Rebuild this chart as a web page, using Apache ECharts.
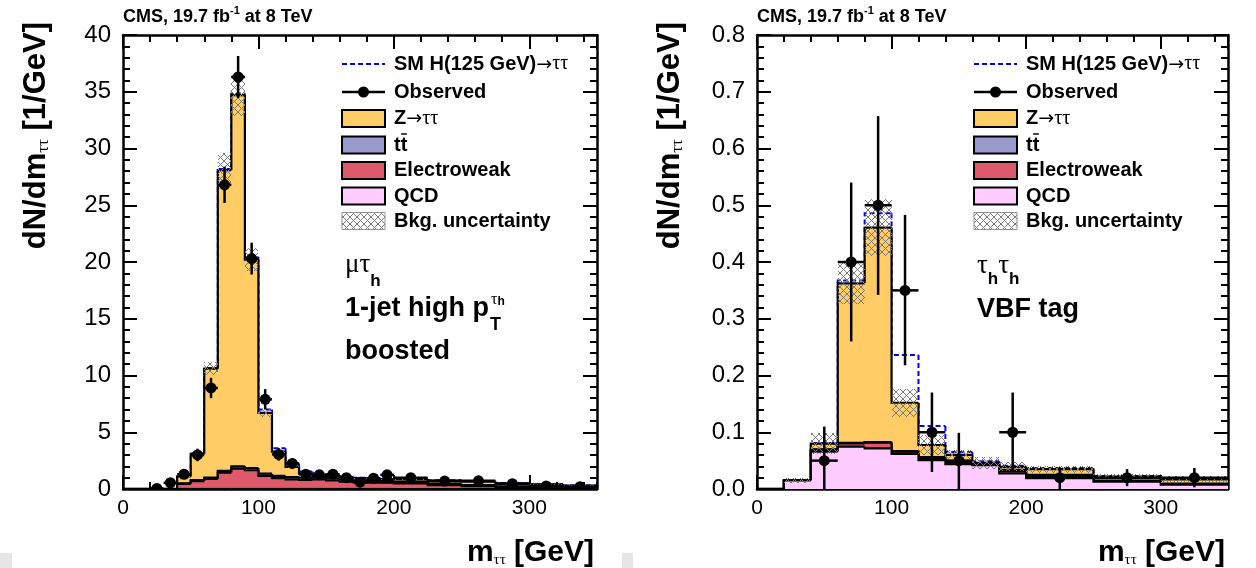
<!DOCTYPE html>
<html>
<head>
<meta charset="utf-8">
<script src="https://cdn.jsdelivr.net/npm/echarts@6/dist/echarts.min.js"></script>
<style>
  html, body { margin: 0; padding: 0; background: #fff; }
  #main { width: 1256px; height: 568px; }
</style>
</head>
<body>
<div id="main"></div>
<script>
// ---------- mu tau_h, 1-jet high pT boosted (left panel) ----------
// bin edges in GeV
const boostEdges = [0, 10, 20, 30, 40, 50, 60, 70, 80, 90, 100, 110, 120, 130, 140, 150, 160, 170, 180, 190, 200, 225, 250, 275, 300, 325, 350];
// expected events per GeV, one value per bin
const boostQCD = [0, 0, 0, 0, 0, 0, 0, 0, 0, 0, 0, 0, 0, 0, 0, 0, 0, 0, 0, 0, 0, 0, 0, 0, 0, 0];
const boostEWK = [0, 0, 0, 0, 0.45, 0.7, 0.9, 1.45, 1.8, 1.65, 1.15, 0.95, 0.85, 0.8, 0.85, 0.75, 0.65, 0.6, 0.55, 0.55, 0.5, 0.35, 0.25, 0.15, 0.1, 0.06];
const boostTT = [0, 0, 0, 0, 0.05, 0.08, 0.1, 0.15, 0.2, 0.2, 0.2, 0.2, 0.2, 0.2, 0.2, 0.18, 0.18, 0.17, 0.16, 0.15, 0.14, 0.12, 0.1, 0.08, 0.06, 0.05];
const boostZTT = [0, 0, 0, 0, 0.6, 2.32, 9.6, 26.5, 32.7, 18.35, 5.35, 2.15, 0.9, 0.35, 0.2, 0.22, 0.22, 0.18, 0.19, 0.15, 0.21, 0.28, 0.3, 0.27, 0.24, 0.19];
const boostBkgErr = [0, 0, 0, 0, 0.06, 0.15, 0.55, 1.5, 1.8, 1.0, 0.35, 0.17, 0.1, 0.07, 0.06, 0.06, 0.05, 0.05, 0.05, 0.05, 0.05, 0.04, 0.04, 0.03, 0.03, 0.02];
const boostHiggs = [0, 0, 0, 0, 0, 0.02, 0.05, 0.1, 0.15, 0.25, 0.3, 0.3, 0.3, 0.2, 0.12, 0.08, 0.06, 0.05, 0.04, 0.03, 0.03, 0.02, 0.02, 0.01, 0.01, 0.01];
const boostObs = [null, null, 0.05, 0.55, 1.3, 3.0, 8.9, 26.8, 36.3, 20.3, 7.9, 3.05, 2.25, 1.3, 1.25, 1.3, 1.0, 0.6, 0.95, 1.25, 1.0, 0.7, 0.72, 0.47, 0.27, 0.2];
const boostObsErrUp = [0, 0, 0.07, 0.23, 0.36, 0.55, 0.9, 1.6, 1.85, 1.4, 0.9, 0.55, 0.47, 0.36, 0.35, 0.36, 0.32, 0.25, 0.31, 0.35, 0.2, 0.17, 0.17, 0.14, 0.1, 0.09];
const boostObsErrDn = [0, 0, 0.05, 0.23, 0.36, 0.55, 0.9, 1.6, 1.85, 1.4, 0.9, 0.55, 0.47, 0.36, 0.35, 0.36, 0.32, 0.25, 0.31, 0.35, 0.2, 0.17, 0.17, 0.14, 0.1, 0.09];
const boostYTicks = { max: 40, interval: 5, digits: 0 };

// ---------- tau_h tau_h, VBF tag (right panel) ----------
const vbfEdges = [0, 20, 40, 60, 80, 100, 120, 140, 160, 180, 200, 250, 300, 350];
const vbfQCD = [0, 0.015, 0.066, 0.0745, 0.0717, 0.062, 0.051, 0.044, 0.042, 0.0277, 0.019, 0.013, 0.0075];
const vbfEWK = [0, 0, 0.003, 0.006, 0.01, 0.004, 0.003, 0.002, 0.002, 0.004, 0.002, 0.001, 0.001];
const vbfTT = [0, 0, 0.001, 0.001, 0.001, 0.001, 0.002, 0.002, 0.001, 0.002, 0.004, 0.001, 0.001];
const vbfZTT = [0, 0, 0.010, 0.281, 0.378, 0.085, 0.0215, 0.012, 0.001, 0.0053, 0.010, 0.007, 0.0075];
const vbfBkgErr = [0, 0.004, 0.019, 0.037, 0.05, 0.025, 0.018, 0.008, 0.01, 0.008, 0.006, 0.005, 0.006];
const vbfHiggs = [0, 0, 0.001, 0.005, 0.025, 0.084, 0.0335, 0.005, 0.003, 0.002, 0.002, 0.001, 0.001];
const vbfObs = [null, null, 0.05, 0.40, 0.50, 0.35, 0.10, 0.05, null, 0.10, 0.02, 0.02, 0.02];
const vbfObsErrUp = [0, 0, 0.06, 0.14, 0.157, 0.133, 0.07, 0.049, 0, 0.07, 0.017, 0.015, 0.017];
const vbfObsErrDn = [0, 0, 0.05, 0.14, 0.158, 0.132, 0.07, 0.05, 0, 0.07, 0.02, 0.015, 0.017];
const vbfYTicks = { max: 0.8, interval: 0.1, digits: 1 };

const xTickLabels = { max: 350, major: 100, minor: 20 };

// legend entries and category captions
const legendLabels = ['SM H(125 GeV)', 'Observed', 'Z', 'tt', 'Electroweak', 'QCD', 'Bkg. uncertainty'];
const headerText = ['CMS, 19.7 fb', '-1', ' at 8 TeV'];

// ---------- styling ----------
const SANS = '"Liberation Sans", Arial, Helvetica, sans-serif';
const SERIF = '"Liberation Serif", "DejaVu Serif", serif';
const ARROWF = '"DejaVu Sans", sans-serif';
const COL = { ztt: '#FFCC66', tt: '#9999CC', ewk: '#DE5A6A', qcd: '#FFCCFF', higgs: '#0000EE' };
const OUTLINE_W = 2.2;

function makeHatch() {
  const c = document.createElement('canvas');
  c.width = 7; c.height = 7;
  const g = c.getContext('2d');
  g.strokeStyle = '#7a7a7a';
  g.lineWidth = 1;
  g.beginPath();
  g.moveTo(-1, -1); g.lineTo(8, 8);
  g.moveTo(8, -1); g.lineTo(-1, 8);
  g.stroke();
  return c;
}
const hatch = makeHatch();
const hatchFill = () => ({ type: 'pattern', image: hatch, repeat: 'repeat' });

// ---------- render helpers ----------
function snapRect(a, b) {
  const x = Math.round(a[0]), y = Math.round(a[1]);
  return { x: x, y: y, width: Math.round(b[0]) - x, height: Math.round(b[1]) - y };
}
function fillItem(color) {
  return function (params, api) {
    const lo = api.value(0), hi = api.value(1), top = api.value(2);
    if (!(top > 0)) return null;
    return { type: 'rect', shape: snapRect(api.coord([lo, top]), api.coord([hi, 0])), style: { fill: color } };
  };
}
function outlineItem(color, width, dash) {
  return function (params, api) {
    const lo = api.value(0), hi = api.value(1), top = api.value(2), prev = api.value(3);
    const pts = [api.coord([lo, prev]), api.coord([lo, top]), api.coord([hi, top])];
    return { type: 'polyline', shape: { points: pts }, style: { stroke: color, lineWidth: width, fill: 'none', lineDash: dash || null } };
  };
}
function bandItem(params, api) {
  const lo = api.value(0), hi = api.value(1), dn = api.value(2), up = api.value(3);
  if (!(up > dn)) return null;
  return { type: 'rect', shape: snapRect(api.coord([lo, up]), api.coord([hi, dn])), style: { fill: hatchFill() } };
}
function obsItem(params, api) {
  const x = api.value(0), y = api.value(1), lo = api.value(2), hi = api.value(3);
  const dn = api.value(4), up = api.value(5);
  const c = api.coord([x, y]);
  const a = api.coord([lo, y]), b = api.coord([hi, y]);
  const t = api.coord([x, y + up]), d = api.coord([x, Math.max(0, y - dn)]);
  return {
    type: 'group', children: [
      { type: 'line', shape: { x1: a[0], y1: c[1], x2: b[0], y2: c[1] }, style: { stroke: '#000', lineWidth: 2.5 } },
      { type: 'line', shape: { x1: c[0], y1: t[1], x2: c[0], y2: d[1] }, style: { stroke: '#000', lineWidth: 2.5 } },
      { type: 'circle', shape: { cx: c[0], cy: c[1], r: 5.5 }, style: { fill: '#000' } }
    ]
  };
}

function panelSeries(p, xi, yi) {
  const n = p.edges.length - 1;
  const layers = [p.qcd, p.ewk, p.tt, p.ztt];          // bottom to top
  const colors = [COL.qcd, COL.ewk, COL.tt, COL.ztt];
  const cum = [];
  let acc = new Array(n).fill(0);
  layers.forEach(l => { acc = acc.map((v, i) => v + l[i]); cum.push(acc.slice()); });
  const total = cum[cum.length - 1];
  const stepData = arr => arr.map((v, i) => [p.edges[i], p.edges[i + 1], v, i > 0 ? arr[i - 1] : 0]);
  const base = { type: 'custom', xAxisIndex: xi, yAxisIndex: yi, clip: true, silent: true };
  const series = [];
  // signal expectation drawn on top of the total background
  const withHiggs = total.map((v, i) => v + p.higgs[i]);
  series.push(Object.assign({}, base, { renderItem: outlineItem(COL.higgs, 2, [5, 3]), data: stepData(withHiggs) }));
  // stacked backgrounds, largest cumulative first
  for (let k = layers.length - 1; k >= 0; k--) {
    series.push(Object.assign({}, base, { renderItem: fillItem(colors[k]), data: stepData(cum[k]) }));
    series.push(Object.assign({}, base, { renderItem: outlineItem('#000', OUTLINE_W), data: stepData(cum[k]) }));
  }
  // background uncertainty band
  series.push(Object.assign({}, base, {
    renderItem: bandItem,
    data: total.map((v, i) => [p.edges[i], p.edges[i + 1], Math.max(0, v - p.err[i]), v + p.err[i]])
  }));
  // observed data
  const obs = [];
  p.obs.forEach((v, i) => {
    if (v === null) return;
    obs.push([(p.edges[i] + p.edges[i + 1]) / 2, v, p.edges[i], p.edges[i + 1], p.obsDn[i], p.obsUp[i]]);
  });
  series.push(Object.assign({}, base, { renderItem: obsItem, data: obs }));
  return series;
}

// ---------- axes ----------
const tickLine = { color: '#000', width: 2 };
function xAxesFor(gi) {
  const common = { gridIndex: gi, type: 'value', min: 0, max: xTickLabels.max, splitLine: { show: false } };
  return [
    Object.assign({}, common, {
      position: 'bottom', interval: xTickLabels.major,
      axisLine: { show: true, onZero: false, lineStyle: { color: '#000', width: 2.5 } },
      axisTick: { show: true, inside: true, length: 14, lineStyle: tickLine },
      axisLabel: { show: true, color: '#000', fontSize: 21, fontFamily: SANS, margin: 9, showMaxLabel: false }
    }),
    Object.assign({}, common, {
      position: 'top', interval: xTickLabels.major,
      axisLine: { show: true, onZero: false, lineStyle: { color: '#000', width: 2.5 } },
      axisTick: { show: true, inside: true, length: 14, lineStyle: tickLine },
      axisLabel: { show: false }
    }),
    Object.assign({}, common, {
      position: 'bottom', interval: xTickLabels.minor,
      axisLine: { show: false, onZero: false },
      axisTick: { show: true, inside: true, length: 7, lineStyle: tickLine },
      axisLabel: { show: false }
    }),
    Object.assign({}, common, {
      position: 'top', interval: xTickLabels.minor,
      axisLine: { show: false, onZero: false },
      axisTick: { show: true, inside: true, length: 7, lineStyle: tickLine },
      axisLabel: { show: false }
    })
  ];
}
function yAxesFor(gi, t) {
  const common = {
    gridIndex: gi, type: 'value', min: 0, max: t.max, interval: t.interval, splitLine: { show: false },
    axisLine: { show: true, onZero: false, lineStyle: { color: '#000', width: 2.5 } },
    axisTick: { show: true, inside: true, length: 14, lineStyle: tickLine },
    minorTick: { show: true, splitNumber: 5, length: 7, lineStyle: tickLine }
  };
  return [
    Object.assign({}, common, {
      position: 'left',
      axisLabel: { show: true, color: '#000', fontSize: 24, fontFamily: SANS, margin: 12, formatter: v => v.toFixed(t.digits) }
    }),
    Object.assign({}, common, { position: 'right', axisLabel: { show: false } })
  ];
}

// ---------- text helpers ----------
const mctx = document.createElement('canvas').getContext('2d');
function fontOf(p) { return (p.w || 'bold') + ' ' + p.s + 'px ' + (p.f || SANS); }
function textRun(parts, opt) {
  let cx = 0, lastStart = 0;
  const kids = [];
  parts.forEach(p => {
    const font = fontOf(p);
    mctx.font = font;
    const w = mctx.measureText(p.t).width;
    if (p.rewind) cx = lastStart;
    cx += p.dx || 0;
    lastStart = cx;
    kids.push({ type: 'text', x: cx, y: p.dy || 0, style: { text: p.t, font: font, fill: p.c || '#000', align: 'left', verticalAlign: 'middle' } });
    cx += w;
  });
  if (opt.align === 'right') kids.forEach(k => { k.x -= cx; });
  return { type: 'group', x: opt.x, y: opt.y, rotation: opt.rotation || 0, silent: true, children: kids };
}

function legendGroup(x0, rows, textX) {
  const w = 43, h = 17;
  const els = [];
  // SM Higgs
  els.push({ type: 'line', shape: { x1: x0, y1: rows[0], x2: x0 + w, y2: rows[0] }, style: { stroke: COL.higgs, lineWidth: 2, lineDash: [5, 3] } });
  // observed
  els.push({ type: 'line', shape: { x1: x0, y1: rows[1], x2: x0 + w, y2: rows[1] }, style: { stroke: '#000', lineWidth: 2.5 } });
  els.push({ type: 'circle', shape: { cx: x0 + w / 2, cy: rows[1], r: 5.5 }, style: { fill: '#000' } });
  // filled backgrounds
  [COL.ztt, COL.tt, COL.ewk, COL.qcd].forEach((c, k) => {
    els.push({ type: 'rect', shape: { x: x0, y: rows[2 + k] - h / 2, width: w, height: h }, style: { fill: c, stroke: '#000', lineWidth: 2 } });
  });
  // uncertainty
  els.push({ type: 'rect', shape: { x: x0, y: rows[6] - h / 2, width: w, height: h }, style: { fill: hatchFill(), stroke: '#909090', lineWidth: 1 } });

  const arrow = [{ t: '\u2192', s: 19, w: 'normal', f: ARROWF, dy: 1 }, { t: '\u03c4\u03c4', s: 20, w: 'normal', f: SERIF }];
  els.push(textRun([{ t: legendLabels[0], s: 20 }].concat(arrow), { x: textX, y: rows[0] }));
  els.push(textRun([{ t: legendLabels[1], s: 20 }], { x: textX, y: rows[1] }));
  els.push(textRun([{ t: legendLabels[2], s: 20 }].concat(arrow), { x: textX, y: rows[2] }));
  els.push(textRun([{ t: legendLabels[3], s: 20 }], { x: textX, y: rows[3] }));
  // bar over the second t
  mctx.font = fontOf({ s: 20 });
  const tw = mctx.measureText('t').width;
  els.push({ type: 'line', shape: { x1: textX + tw + 0.5, y1: rows[3] - 11, x2: textX + 2 * tw - 0.5, y2: rows[3] - 11 }, style: { stroke: '#000', lineWidth: 1.5 } });
  els.push(textRun([{ t: legendLabels[4], s: 20 }], { x: textX, y: rows[4] }));
  els.push(textRun([{ t: legendLabels[5], s: 20 }], { x: textX, y: rows[5] }));
  els.push(textRun([{ t: legendLabels[6], s: 20 }], { x: textX, y: rows[6] }));
  return { type: 'group', silent: true, children: els };
}

function panelText(x0, xEnd, titleX) {
  return [
    textRun([{ t: headerText[0], s: 18 }, { t: headerText[1], s: 11, dy: -6 }, { t: headerText[2], s: 18 }], { x: x0, y: 17 }),
    textRun([{ t: 'm', s: 30 }, { t: '\u03c4\u03c4', s: 15, w: 'normal', f: SERIF, dy: 7 }, { t: ' [GeV]', s: 30 }],
      { x: xEnd - 3, y: 553, align: 'right' }),
    textRun([{ t: 'dN/dm', s: 31 }, { t: '\u03c4\u03c4', s: 17, w: 'normal', f: SERIF, dy: 8 }, { t: ' [1/GeV]', s: 31 }],
      { x: titleX, y: 22, align: 'right', rotation: Math.PI / 2 })
  ];
}

const rows = [64, 92, 118.5, 145, 170.5, 196, 221];

const graphics = [].concat(
  panelText(123, 597, 36),
  panelText(757, 1228, 670),
  [legendGroup(342, rows, 394), legendGroup(974, rows, 1026)],
  [
    textRun([{ t: '\u03bc\u03c4', s: 27, w: 'normal', f: SERIF }, { t: 'h', s: 17, dy: 16 }], { x: 345, y: 265 }),
    textRun([{ t: '1-jet high p', s: 27 }, { t: 'T', s: 18, dy: 16, dx: 1 },
      { t: '\u03c4', s: 16, w: 'normal', f: SERIF, dy: -9, rewind: true, dx: 1 }, { t: 'h', s: 12, dy: -7 }], { x: 345, y: 309 }),
    textRun([{ t: 'boosted', s: 27 }], { x: 345, y: 352 }),
    textRun([{ t: '\u03c4', s: 27, w: 'normal', f: SERIF }, { t: 'h', s: 17, dy: 13 },
      { t: '\u03c4', s: 27, w: 'normal', f: SERIF }, { t: 'h', s: 17, dy: 13 }], { x: 977, y: 266 }),
    textRun([{ t: 'VBF tag', s: 27 }], { x: 977, y: 310 }),
    { type: 'rect', silent: true, shape: { x: 0, y: 553, width: 12, height: 15 }, style: { fill: '#e6e6e6' } },
    { type: 'rect', silent: true, shape: { x: 622, y: 553, width: 11, height: 15 }, style: { fill: '#e6e6e6' } }
  ]
);

const boostPanel = { edges: boostEdges, qcd: boostQCD, ewk: boostEWK, tt: boostTT, ztt: boostZTT, err: boostBkgErr,
  higgs: boostHiggs, obs: boostObs, obsUp: boostObsErrUp, obsDn: boostObsErrDn };
const vbfPanel = { edges: vbfEdges, qcd: vbfQCD, ewk: vbfEWK, tt: vbfTT, ztt: vbfZTT, err: vbfBkgErr,
  higgs: vbfHiggs, obs: vbfObs, obsUp: vbfObsErrUp, obsDn: vbfObsErrDn };

const chart = echarts.init(document.getElementById('main'), null, { renderer: 'canvas' });
chart.setOption({
  animation: false,
  backgroundColor: '#fff',
  grid: [
    { left: 123, top: 35, width: 474, height: 454 },
    { left: 757, top: 35, width: 471, height: 454 }
  ],
  xAxis: [].concat(xAxesFor(0), xAxesFor(1)),
  yAxis: [].concat(yAxesFor(0, boostYTicks), yAxesFor(1, vbfYTicks)),
  series: [].concat(panelSeries(boostPanel, 0, 0), panelSeries(vbfPanel, 4, 2)),
  graphic: graphics
});
</script>
</body>
</html>
